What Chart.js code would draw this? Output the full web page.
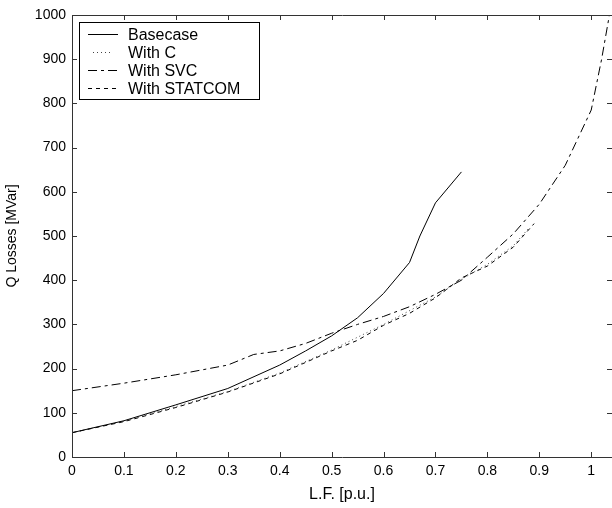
<!DOCTYPE html>
<html>
<head>
<meta charset="utf-8">
<script src="https://cdn.jsdelivr.net/npm/chart.js@4.4.1/dist/chart.umd.min.js"></script>
<style>
  html, body { margin: 0; padding: 0; background: #fff; }
</style>
</head>
<body>
<canvas id="qlosses" width="612" height="508"></canvas>
<script>
// values (L.F. in p.u., Q losses in MVar)
var baseLF = [0, 0.1, 0.2, 0.3, 0.4, 0.45, 0.5, 0.55, 0.6, 0.65, 0.67, 0.7, 0.75];
var baseQ  = [55, 82, 118, 155, 208, 240, 274, 315, 370, 440, 500, 575, 645];

var capLF = [0, 0.1, 0.2, 0.3, 0.4, 0.5, 0.6, 0.7, 0.75, 0.8, 0.85, 0.88];
var capQ  = [55, 81, 114, 148, 190, 242, 300, 362, 402, 436, 478, 518];

var svcLF = [0, 0.1, 0.2, 0.3, 0.35, 0.4, 0.45, 0.5, 0.55, 0.6, 0.65, 0.7, 0.75, 0.8, 0.85, 0.9, 0.95, 1.0, 1.02, 1.035];
var svcQ  = [150, 167, 186, 208, 232, 240, 257, 280, 300, 318, 340, 368, 400, 452, 505, 572, 660, 785, 900, 1000];

var statLF = [0, 0.1, 0.2, 0.3, 0.4, 0.45, 0.5, 0.55, 0.6, 0.65, 0.7, 0.75, 0.8, 0.85, 0.89];
var statQ  = [55, 80, 112, 147, 188, 214, 240, 264, 298, 325, 360, 405, 432, 475, 528];

var xTicks = [0, 0.1, 0.2, 0.3, 0.4, 0.5, 0.6, 0.7, 0.8, 0.9, 1];
var seriesNames = ["Basecase", "With C", "With SVC", "With STATCOM"];

var FONT = '"Liberation Sans", Arial, sans-serif';

function pts(xs, ys) {
  var out = [];
  for (var i = 0; i < xs.length; i++) {
    out.push({ x: xs[i], y: ys[i] });
  }
  return out;
}

// box round the plot with inward tick marks, like the matlab figure
var axesBox = {
  id: 'axesBox',
  afterDraw: function(chart) {
    var ctx = chart.ctx;
    var a = chart.chartArea;
    var xs = chart.scales.x, ys = chart.scales.y;
    ctx.save();
    ctx.strokeStyle = '#333';
    ctx.lineWidth = 1;
    ctx.beginPath();
    ctx.moveTo(a.left + 0.5, a.top + 0.5);
    ctx.lineTo(a.right + 0.5, a.top + 0.5);
    ctx.lineTo(a.right + 0.5, a.bottom + 0.5);
    ctx.lineTo(a.left + 0.5, a.bottom + 0.5);
    ctx.closePath();
    ctx.stroke();
    ctx.beginPath();
    xTicks.forEach(function(v) {
      var px = Math.round(xs.getPixelForValue(v)) + 0.5;
      ctx.moveTo(px, a.bottom);
      ctx.lineTo(px, a.bottom - 5);
      ctx.moveTo(px, a.top);
      ctx.lineTo(px, a.top + 5);
    });
    ys.ticks.forEach(function(t) {
      var py = Math.round(ys.getPixelForValue(t.value)) + 0.5;
      ctx.moveTo(a.left, py);
      ctx.lineTo(a.left + 5, py);
      ctx.moveTo(a.right, py);
      ctx.lineTo(a.right - 5, py);
    });
    ctx.stroke();
    ctx.restore();
  }
};

// legend box drawn inside the plot, top left
var boxLegend = {
  id: 'boxLegend',
  afterDraw: function(chart) {
    var ctx = chart.ctx;
    var left = 79, top = 22, w = 180, h = 77;
    ctx.save();
    ctx.fillStyle = '#fff';
    ctx.fillRect(left, top, w, h);
    ctx.strokeStyle = '#000';
    ctx.lineWidth = 1;
    ctx.strokeRect(left + 0.5, top + 0.5, w, h);
    ctx.font = '16px ' + FONT;
    ctx.textBaseline = 'middle';
    ctx.fillStyle = '#000';
    chart.data.datasets.forEach(function(ds, i) {
      var y = top + 12.5 + i * 18;
      ctx.beginPath();
      ctx.setLineDash(ds.borderDash || []);
      ctx.strokeStyle = ds.borderColor;
      ctx.lineWidth = ds.borderWidth;
      ctx.moveTo(i == 1 ? 93 : 88, y);
      ctx.lineTo(i == 1 ? 112 : 118, y);
      ctx.stroke();
      ctx.setLineDash([]);
      ctx.fillText(ds.label, 128, y + 1);
    });
    ctx.restore();
  }
};

var ctx = document.getElementById('qlosses').getContext('2d');
var chart = new Chart(ctx, {
  type: 'line',
  data: {
    datasets: [
      { label: seriesNames[0], data: pts(baseLF, baseQ), borderColor: '#000', borderWidth: 1 },
      { label: seriesNames[1], data: pts(capLF, capQ), borderColor: '#444', borderWidth: 1, borderDash: [1, 3] },
      { label: seriesNames[2], data: pts(svcLF, svcQ), borderColor: '#000', borderWidth: 1, borderDash: [9, 4, 3, 4] },
      { label: seriesNames[3], data: pts(statLF, statQ), borderColor: '#000', borderWidth: 1, borderDash: [4, 4] }
    ]
  },
  options: {
    responsive: false,
    animation: false,
    layout: { padding: { top: 15, right: 0, bottom: 0, left: 0 } },
    elements: {
      point: { radius: 0 },
      line: { tension: 0, fill: false }
    },
    plugins: {
      legend: { display: false },
      tooltip: { enabled: false }
    },
    scales: {
      x: {
        type: 'linear',
        min: 0,
        max: 1.04,
        afterBuildTicks: function(s) {
          s.ticks = xTicks.map(function(v) { return { value: v }; });
        },
        afterFit: function(s) { s.height = 51; },
        grid: { display: false, drawTicks: false },
        border: { display: false },
        ticks: {
          color: '#000',
          padding: 6,
          maxRotation: 0,
          autoSkip: false,
          font: { family: FONT, size: 14 },
          callback: function(v) { return String(Math.round(v * 10) / 10); }
        },
        title: {
          display: true,
          text: 'L.F. [p.u.]',
          color: '#000',
          font: { family: FONT, size: 16 },
          padding: { top: 0, bottom: 4 }
        }
      },
      y: {
        min: 0,
        max: 1000,
        afterFit: function(s) { s.width = 72; },
        grid: { display: false, drawTicks: false },
        border: { display: false },
        ticks: {
          stepSize: 100,
          color: '#000',
          padding: 6,
          font: { family: FONT, size: 14 },
          callback: function(v) { return String(v); }
        },
        title: {
          display: true,
          text: 'Q Losses [MVar]',
          color: '#000',
          font: { family: FONT, size: 14 },
          padding: { top: 4, bottom: 0 }
        }
      }
    }
  },
  plugins: [axesBox, boxLegend]
});
</script>
</body>
</html>
